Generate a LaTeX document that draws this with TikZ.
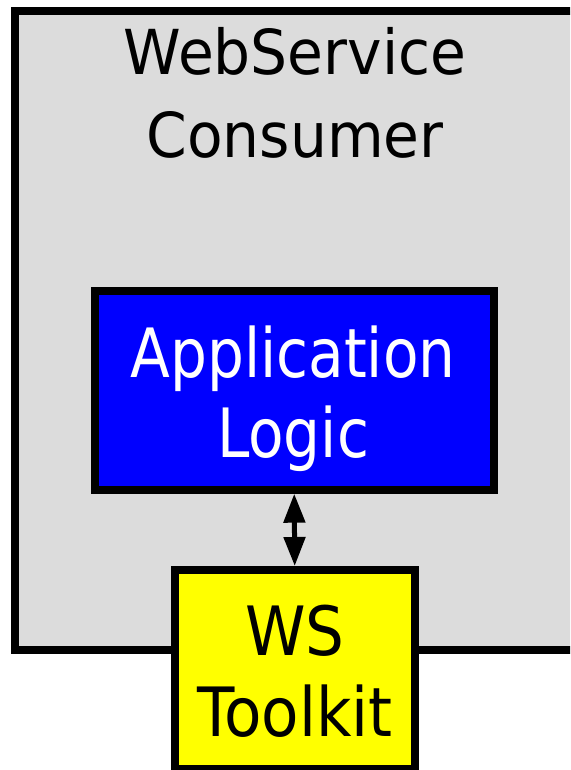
\documentclass[tikz,border=0pt]{standalone}
\usepackage{fontspec}
\setmainfont{DejaVu Sans}
\newfontfamily\titlefont{DejaVu Sans}[FakeStretch=0.94]
\newfontfamily\appfont{DejaVu Sans}[FakeStretch=0.855]
\newfontfamily\kitfont{DejaVu Sans}[FakeStretch=0.90]
\usetikzlibrary{arrows.meta}
\definecolor{panelgray}{RGB}{220,220,220}
\definecolor{appblue}{RGB}{0,0,255}
\definecolor{kityellow}{RGB}{255,255,0}
\begin{document}
\begin{tikzpicture}[x=1pt,y=-1pt,
  frame/.style={draw=black,line width=8pt,rectangle,inner sep=0pt,outer sep=0pt},
  label/.style={align=center,inner sep=0pt,anchor=base},
  link/.style={line width=5pt,{Triangle[width=21pt,length=29pt]}-{Triangle[width=21pt,length=29pt]},
    shorten <=4pt,shorten >=4pt}]
\useasboundingbox (0,0) rectangle (570,770);
\clip (0,0) rectangle (570,770);
\fill[white] (0,0) rectangle (570,770);
% consumer panel (extends past the right edge)
\node[frame,fill=panelgray,anchor=north west,minimum width=590pt,minimum height=639pt] (consumer) at (15,11) {};
% base anchor of a two-line label sits on its last line
\node[label,font=\titlefont\fontsize{62}{83}\selectfont] (consumertext) at (295,158) {WebService\\Consumer};
% application logic
\node[frame,fill=appblue,anchor=north west,minimum width=399pt,minimum height=198.7pt] (app) at (94.7,291) {};
\node[label,text=white,font=\appfont\fontsize{68}{80}\selectfont] (apptext) at (293,457) {Application\\Logic};
% toolkit
\node[frame,fill=kityellow,anchor=north west,minimum width=239.5pt,minimum height=199pt] (kit) at (175,570) {};
\node[label,font=\kitfont\fontsize{68}{81}\selectfont] (kittext) at (295,736) {WS\\Toolkit};
% link between logic and toolkit
\draw[link] (app.south) -- (kit.north);
\end{tikzpicture}
\end{document}
